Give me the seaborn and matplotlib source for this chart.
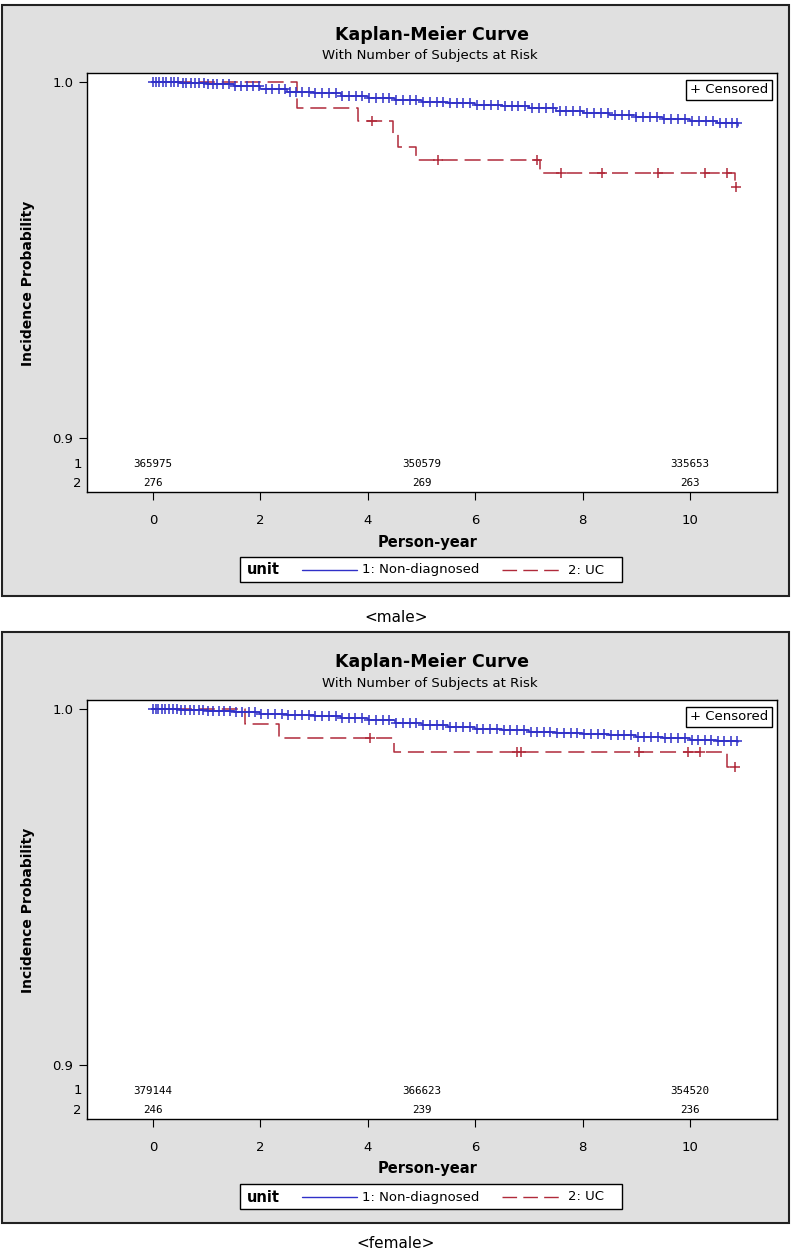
import matplotlib
matplotlib.use("Agg")
import matplotlib.pyplot as plt
import seaborn as sns
import pandas as pd
import numpy as np
from matplotlib.patches import Rectangle
from matplotlib.lines import Line2D
from matplotlib import font_manager

# ---- data ----
# male, 1: Non-diagnosed (KM estimate at each time)
male_nd_time = [0, 0.5, 1, 1.5, 2, 2.5, 3, 3.5, 4, 4.5, 5, 5.5, 6, 6.5, 7, 7.5, 8, 8.5, 9, 9.5, 10, 10.5, 10.9]
male_nd_prob = [1.0, 0.9998, 0.9993, 0.9988, 0.9981, 0.9972, 0.9968, 0.9962, 0.9955, 0.9950, 0.9945, 0.9941,
                0.9936, 0.9932, 0.9926, 0.9919, 0.9912, 0.9906, 0.9901, 0.9896, 0.9890, 0.9884, 0.9876]
male_nd_cens = [0.0, 0.06, 0.12, 0.18, 0.25, 0.33, 0.4, 0.47, 0.55, 0.62, 0.7, 0.78, 0.86, 0.95, 1.03, 1.12,
                1.2, 1.3, 1.41, 1.52, 1.63, 1.75, 1.86, 1.97, 2.1, 2.22, 2.35, 2.45, 2.55, 2.66, 2.78, 2.9,
                3.02, 3.15, 3.28, 3.4, 3.52, 3.65, 3.78, 3.9, 4.02, 4.15, 4.28, 4.4, 4.53, 4.66, 4.78, 4.9,
                5.03, 5.16, 5.28, 5.4, 5.53, 5.66, 5.78, 5.9, 6.03, 6.16, 6.29, 6.42, 6.55, 6.68, 6.8, 6.93,
                7.06, 7.19, 7.32, 7.45, 7.58, 7.7, 7.83, 7.96, 8.09, 8.22, 8.35, 8.48, 8.61, 8.74, 8.87, 9.0,
                9.13, 9.26, 9.39, 9.52, 9.65, 9.78, 9.91, 10.04, 10.17, 10.3, 10.43, 10.56, 10.67, 10.78, 10.88]
# male, 2: UC
male_uc_time = [0, 2.68, 3.82, 4.47, 4.56, 4.9, 7.2, 10.84, 10.86]
male_uc_prob = [1.0, 0.9928, 0.9891, 0.9855, 0.9818, 0.9782, 0.9745, 0.9706, 0.9706]
male_uc_cens = [4.08, 5.3, 7.15, 7.6, 8.36, 9.4, 10.28, 10.69, 10.86]
male_risk_time = [0, 5, 10]
male_risk_nd = ["365975", "350579", "335653"]
male_risk_uc = ["276", "269", "263"]

# female, 1: Non-diagnosed
female_nd_time = [0, 0.5, 1, 1.5, 2, 2.5, 3, 3.5, 4, 4.5, 5, 5.5, 6, 6.5, 7, 7.5, 8, 8.5, 9, 9.5, 10, 10.5, 10.9]
female_nd_prob = [1.0, 0.9998, 0.9995, 0.9991, 0.9986, 0.9982, 0.9979, 0.9975, 0.9968, 0.9962, 0.9956, 0.9950,
                  0.9945, 0.9940, 0.9935, 0.9932, 0.9929, 0.9926, 0.9922, 0.9919, 0.9914, 0.9910, 0.9907]
female_nd_cens = [0.0, 0.05, 0.1, 0.16, 0.22, 0.3, 0.37, 0.45, 0.52, 0.6, 0.68, 0.76, 0.85, 0.94, 1.03, 1.12,
                  1.22, 1.33, 1.44, 1.55, 1.66, 1.78, 1.9, 2.02, 2.14, 2.27, 2.4, 2.52, 2.64, 2.77, 2.9, 3.02,
                  3.15, 3.27, 3.4, 3.52, 3.65, 3.77, 3.9, 4.03, 4.15, 4.28, 4.4, 4.53, 4.65, 4.78, 4.9, 5.03,
                  5.15, 5.28, 5.4, 5.53, 5.65, 5.78, 5.9, 6.03, 6.15, 6.28, 6.4, 6.53, 6.65, 6.78, 6.9, 7.03,
                  7.15, 7.28, 7.4, 7.53, 7.65, 7.78, 7.9, 8.03, 8.15, 8.28, 8.4, 8.53, 8.65, 8.78, 8.9, 9.03,
                  9.15, 9.28, 9.4, 9.53, 9.65, 9.78, 9.9, 10.03, 10.15, 10.28, 10.4, 10.52, 10.64, 10.76, 10.88]
# female, 2: UC
female_uc_time = [0, 1.71, 2.35, 4.49, 10.69, 10.84]
female_uc_prob = [1.0, 0.9959, 0.9919, 0.9878, 0.9837, 0.9837]
female_uc_cens = [4.04, 6.78, 6.85, 9.05, 9.96, 10.19, 10.84]
female_risk_time = [0, 5, 10]
female_risk_nd = ["379144", "366623", "354520"]
female_risk_uc = ["246", "239", "236"]

# ---- style ----
sns.set_style("white")
names = {f.name for f in font_manager.fontManager.ttflist}
main_font = "Liberation Sans Narrow" if "Liberation Sans Narrow" in names else "DejaVu Sans"
plt.rcParams["font.family"] = [main_font, "DejaVu Sans"]
for k in ["text.color", "axes.labelcolor", "xtick.color", "ytick.color"]:
    plt.rcParams[k] = "black"

W, H = 793, 1255
BLUE = "#3030c8"
RED = "#b02a3a"
GRAY = "#e0e0e0"


def fx(x):
    return x / W


def fy(y):
    return 1 - y / H


def step_value(times, probs, t):
    i = np.searchsorted(times, t, side="right") - 1
    return probs[max(i, 0)]


fig = plt.figure(figsize=(W / 100, H / 100), dpi=100)


def draw_panel(off, nd_t, nd_p, nd_c, uc_t, uc_p, uc_c, risk_t, risk_nd, risk_uc, caption):
    # gray panel
    fig.add_artist(Rectangle((fx(2), fy(596 + off)), (789 - 2) / W, (596 - 5) / H,
                             transform=fig.transFigure, facecolor=GRAY, edgecolor="#222222",
                             linewidth=1.5, zorder=-5))
    fig.text(fx(432), fy(35 + off), "Kaplan-Meier Curve", ha="center", va="center",
             fontsize=12.5, fontweight="bold")
    fig.text(fx(430), fy(56 + off), "With Number of Subjects at Risk", ha="center", va="center",
             fontsize=9.5)

    ax = fig.add_axes([fx(87), fy(492 + off), (777 - 87) / W, (492 - 73) / H])
    ax.set_facecolor("white")

    nd = pd.DataFrame({"time": nd_t, "prob": nd_p})
    uc = pd.DataFrame({"time": uc_t, "prob": uc_p})
    sns.lineplot(data=nd, x="time", y="prob", ax=ax, color=BLUE, linewidth=1.1,
                 drawstyle="steps-post", estimator=None, sort=False)
    sns.lineplot(data=uc, x="time", y="prob", ax=ax, color=RED, linewidth=1.1,
                 drawstyle="steps-post", estimator=None, sort=False)
    ax.lines[-1].set_dashes((10.5, 4.5))

    nd_cy = [step_value(np.array(nd_t), nd_p, t) for t in nd_c]
    uc_cy = [step_value(np.array(uc_t), uc_p, t) for t in uc_c]
    sns.scatterplot(x=nd_c, y=nd_cy, ax=ax, marker="+", s=60, color=BLUE, linewidth=1.1, zorder=3)
    sns.scatterplot(x=uc_c, y=uc_cy, ax=ax, marker="+", s=60, color=RED, linewidth=1.1, zorder=4)

    ax.set_xlim(-1.229, 11.62)
    ax.set_ylim(0.88483, 1.00253)
    ax.set_xticks([0, 2, 4, 6, 8, 10])
    ax.set_yticks([0.9, 1.0])
    ax.set_yticklabels(["0.9", "1.0"])
    ax.tick_params(axis="both", direction="out", length=6, width=0.8, labelsize=9.5,
                   left=True, bottom=True, pad=4, colors="black")
    ax.tick_params(axis="x", pad=10)
    ax.set_xlabel("")
    ax.set_ylabel("")
    for s in ax.spines.values():
        s.set_color("black")
        s.set_linewidth(1)

    # number at risk rows
    for t, a, b in zip(risk_t, risk_nd, risk_uc):
        ax.text(t, 0.8927, a, ha="center", va="center", fontsize=7.8, family="DejaVu Sans Mono")
        ax.text(t, 0.8874, b, ha="center", va="center", fontsize=7.8, family="DejaVu Sans Mono")
    fig.text(fx(82), fy(464 + off), "1", ha="right", va="center", fontsize=9.5)
    fig.text(fx(82), fy(483 + off), "2", ha="right", va="center", fontsize=9.5)

    ax.text(0.987, 0.975, "+ Censored", transform=ax.transAxes, ha="right", va="top", fontsize=9.5,
            bbox=dict(boxstyle="square,pad=0.3", facecolor="white", edgecolor="black", linewidth=1))

    fig.text(fx(28), fy(283 + off), "Incidence Probability", rotation=90, ha="center", va="center",
             fontsize=10, fontweight="bold")
    fig.text(fx(428), fy(542 + off), "Person-year", ha="center", va="center", fontsize=10.5,
             fontweight="bold")

    # legend box
    fig.add_artist(Rectangle((fx(240), fy(582 + off)), (622 - 240) / W, (582 - 557) / H,
                             transform=fig.transFigure, facecolor="white", edgecolor="black",
                             linewidth=1))
    ly = fy(570 + off)
    fig.text(fx(247), ly, "unit", ha="left", va="center", fontsize=10.5, fontweight="bold")
    fig.add_artist(Line2D([fx(302), fx(357)], [ly, ly], transform=fig.transFigure, color=BLUE, linewidth=1))
    fig.text(fx(362), ly, "1: Non-diagnosed", ha="left", va="center", fontsize=9.5)
    fig.add_artist(Line2D([fx(502), fx(561)], [ly, ly], transform=fig.transFigure, color=RED,
                          linewidth=1, dashes=(10.5, 4.5)))
    fig.text(fx(568), ly, "2: UC", ha="left", va="center", fontsize=9.5)

    fig.text(fx(396), fy(617 + off), caption, ha="center", va="center", fontsize=11)


draw_panel(0, male_nd_time, male_nd_prob, male_nd_cens, male_uc_time, male_uc_prob, male_uc_cens,
           male_risk_time, male_risk_nd, male_risk_uc, "<male>")
draw_panel(627, female_nd_time, female_nd_prob, female_nd_cens, female_uc_time, female_uc_prob,
           female_uc_cens, female_risk_time, female_risk_nd, female_risk_uc, "<female>")

fig.savefig("out.png", dpi=100, facecolor="white")
